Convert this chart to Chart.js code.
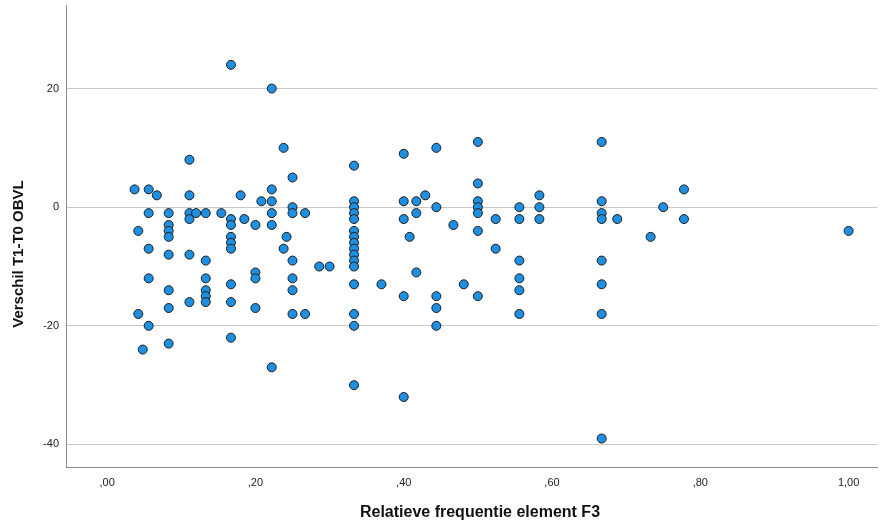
<!DOCTYPE html>
<html>
<head>
<meta charset="utf-8">
<script src="https://cdn.jsdelivr.net/npm/chart.js@4.4.1/dist/chart.umd.min.js"></script>
<style>
  body { margin: 0; background: #fff; }
  #wrap { width: 883px; height: 529px; position: relative; }
</style>
</head>
<body>
<div id="wrap"><canvas id="myChart"></canvas></div>
<script>
// relatieve frequentie (x) en verschil T1-T0 (y), paarsgewijs
const relFreq = [
    0.037,
    0.042, 0.042,
    0.048,
    0.056, 0.056, 0.056, 0.056, 0.056,
    0.067,
    0.083, 0.083, 0.083, 0.083, 0.083, 0.083, 0.083, 0.083,
    0.111, 0.111, 0.111, 0.111, 0.111, 0.111,
    0.12,
    0.133, 0.133, 0.133, 0.133, 0.133, 0.133,
    0.154,
    0.167, 0.167, 0.167, 0.167, 0.167, 0.167, 0.167, 0.167, 0.167,
    0.18,
    0.185,
    0.2, 0.2, 0.2, 0.2,
    0.208,
    0.222, 0.222, 0.222, 0.222, 0.222, 0.222,
    0.238, 0.238,
    0.242,
    0.25, 0.25, 0.25, 0.25, 0.25, 0.25, 0.25,
    0.267, 0.267,
    0.286,
    0.3,
    0.333, 0.333, 0.333, 0.333, 0.333, 0.333, 0.333, 0.333, 0.333, 0.333, 0.333, 0.333, 0.333, 0.333, 0.333, 0.333,
    0.37,
    0.4, 0.4, 0.4, 0.4, 0.4,
    0.408,
    0.417, 0.417, 0.417,
    0.429,
    0.444, 0.444, 0.444, 0.444, 0.444,
    0.467,
    0.481,
    0.5, 0.5, 0.5, 0.5, 0.5, 0.5, 0.5,
    0.524, 0.524,
    0.556, 0.556, 0.556, 0.556, 0.556, 0.556,
    0.583, 0.583, 0.583,
    0.667, 0.667, 0.667, 0.667, 0.667, 0.667, 0.667, 0.667,
    0.688,
    0.733,
    0.75,
    0.778, 0.778,
    1.0
];
const verschil = [
    3,
    -4, -18,
    -24,
    3, -1, -7, -12, -20,
    2,
    -1, -3, -4, -5, -8, -14, -17, -23,
    8, 2, -1, -2, -8, -16,
    -1,
    -1, -9, -12, -14, -15, -16,
    -1,
    24, -2, -3, -5, -6, -7, -13, -16, -22,
    2,
    -2,
    -3, -11, -12, -17,
    1,
    20, 3, 1, -1, -3, -27,
    10, -7,
    -5,
    5, 0, -1, -9, -12, -14, -18,
    -1, -18,
    -10,
    -10,
    7, 1, 0, -1, -2, -4, -5, -6, -7, -8, -9, -10, -13, -18, -20, -30,
    -13,
    9, 1, -2, -15, -32,
    -5,
    1, -1, -11,
    2,
    10, 0, -15, -17, -20,
    -3,
    -13,
    11, 4, 1, 0, -1, -4, -15,
    -2, -7,
    0, -2, -9, -12, -14, -18,
    2, 0, -2,
    11, 1, -1, -2, -9, -13, -18, -39,
    -2,
    -5,
    0,
    3, -2,
    -4
];
const xTicks = [0, 0.2, 0.4, 0.6, 0.8, 1.0];
const yTicks = [-40, -20, 0, 20];
const xTitle = 'Relatieve frequentie element F3';
const yTitle = 'Verschil T1-T0 OBVL';

const points = relFreq.map((x, i) => ({ x: x, y: verschil[i] }));

function nlFormat(v) {
    let s = v.toFixed(2).replace('.', ',');
    if (s.startsWith('0')) s = s.slice(1);
    return s;
}

const axisTitles = {
    id: 'axisTitles',
    afterDraw(chart) {
        const c = chart.ctx;
        c.save();
        c.fillStyle = '#111';
        c.textAlign = 'center';
        c.textBaseline = 'middle';
        c.font = 'bold 16px "Liberation Sans", Arial, sans-serif';
        c.fillText(xTitle, 480, 513);
        c.font = 'bold 15px "Liberation Sans", Arial, sans-serif';
        c.translate(19, 254);
        c.rotate(-Math.PI / 2);
        c.fillText(yTitle, 0, 0);
        c.restore();
    }
};

const ctx = document.getElementById('myChart').getContext('2d');
const chart = new Chart(ctx, {
    type: 'scatter',
    data: {
        datasets: [{
            label: yTitle,
            data: points,
            backgroundColor: '#1e8fe1',
            borderColor: '#1c1c1c',
            borderWidth: 1,
            pointRadius: 4.5,
            pointHoverRadius: 4.5
        }]
    },
    options: {
        responsive: true,
        maintainAspectRatio: false,
        animation: false,
        layout: { padding: { left: 0, right: 3, top: 5, bottom: 0 } },
        plugins: {
            legend: { display: false },
            tooltip: { enabled: false }
        },
        scales: {
            x: {
                type: 'linear',
                min: -0.0555,
                max: 1.039,
                afterBuildTicks: (s) => { s.ticks = xTicks.map(v => ({ value: v })); },
                afterFit: (s) => {
                    s.height = 62;
                    s.paddingLeft = 0; s.paddingRight = 0;
                },
                grid: { display: false, drawTicks: false },
                border: { display: true, color: '#8a8a8a', width: 1 },
                ticks: {
                    padding: 9,
                    color: '#222',
                    font: { family: '"Liberation Sans", Arial, sans-serif', size: 11 },
                    callback: (v) => nlFormat(v)
                }
            },
            y: {
                min: -43.8,
                max: 34,
                afterBuildTicks: (s) => { s.ticks = yTicks.map(v => ({ value: v })); },
                afterFit: (s) => {
                    s.width = 66;
                    s.paddingTop = 0; s.paddingBottom = 0;
                },
                grid: { color: '#c8c8c8', lineWidth: 1, drawTicks: false },
                border: { display: true, color: '#8a8a8a', width: 1 },
                ticks: {
                    padding: 7,
                    color: '#222',
                    font: { family: '"Liberation Sans", Arial, sans-serif', size: 11 }
                }
            }
        }
    },
    plugins: [axisTitles]
});
</script>
</body>
</html>
